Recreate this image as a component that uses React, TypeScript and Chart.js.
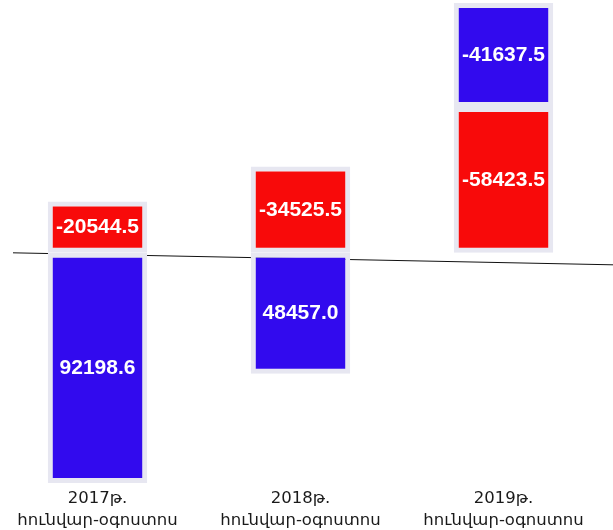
import React, { useEffect, useRef } from "react";
import { Chart, registerables } from "chart.js";

Chart.register(...registerables);

const categories: string[][] = [
  ["2017թ.", "հունվար-օգոստոս"],
  ["2018թ.", "հունվար-օգոստոս"],
  ["2019թ.", "հունվար-օգոստոս"],
];
const redValues: number[] = [-20544.5, -34525.5, -58423.5];
const blueValues: number[] = [92198.6, 48457.0, -41637.5];

const RED = "#F80A0A";
const BLUE = "#320AEE";
const EDGE = "#E7E7F1";

export default function App() {
  const ref = useRef<HTMLCanvasElement | null>(null);

  useEffect(() => {
    if (!ref.current) return;
    const negSums = categories.map((_, i) =>
      [redValues[i], blueValues[i]].filter((v) => v < 0).reduce((a, b) => a + b, 0)
    );
    const posSums = categories.map((_, i) =>
      [redValues[i], blueValues[i]].filter((v) => v > 0).reduce((a, b) => a + b, 0)
    );
    const yMin = Math.min(...negSums);
    const yMax = Math.max(...posSums);

    const zeroLine = {
      id: "zeroLine",
      beforeDatasetsDraw(chart: any) {
        const y = chart.scales.y.getPixelForValue(0);
        const ctx = chart.ctx;
        ctx.save();
        ctx.strokeStyle = "#111";
        ctx.lineWidth = 1;
        ctx.beginPath();
        ctx.moveTo(17, y);
        ctx.lineTo(chart.width, y + 12);
        ctx.stroke();
        ctx.restore();
      },
    };

    const valueLabels = {
      id: "valueLabels",
      afterDatasetsDraw(chart: any) {
        const ctx = chart.ctx;
        ctx.save();
        ctx.fillStyle = "#FFFFFF";
        ctx.font = "bold 21px 'Liberation Sans', Arial, sans-serif";
        ctx.textAlign = "center";
        ctx.textBaseline = "middle";
        chart.data.datasets.forEach((ds: any, di: number) => {
          const meta = chart.getDatasetMeta(di);
          meta.data.forEach((bar: any, i: number) => {
            const v = ds.data[i] as number;
            const cy = (bar.y + bar.base) / 2;
            ctx.fillText(v.toFixed(1), bar.x, cy);
          });
        });
        ctx.restore();
      },
    };

    const chart = new Chart(ref.current, {
      type: "bar",
      data: {
        labels: categories,
        datasets: [
          {
            label: "red",
            data: redValues,
            backgroundColor: RED,
            borderColor: EDGE,
            borderWidth: 5,
            borderSkipped: false,
          },
          {
            label: "blue",
            data: blueValues,
            backgroundColor: BLUE,
            borderColor: EDGE,
            borderWidth: 5,
            borderSkipped: false,
          },
        ],
      },
      options: {
        responsive: false,
        animation: false,
        layout: { padding: { left: 0, right: 8, top: 3, bottom: 0 } },
        plugins: {
          legend: { display: false },
          tooltip: { enabled: false },
        },
        datasets: {
          bar: { categoryPercentage: 1, barPercentage: 0.49 },
        },
        scales: {
          x: {
            stacked: true,
            grid: { display: false, drawTicks: false },
            border: { display: false },
            ticks: {
              color: "#1a1a1a",
              padding: 5,
              maxRotation: 0,
              autoSkip: false,
              font: {
                family: "'DejaVu Sans', 'Liberation Sans', sans-serif",
                size: 16.5,
                lineHeight: "22px",
              },
            },
          },
          y: {
            stacked: true,
            reverse: true,
            display: false,
            min: yMin,
            max: yMax,
          },
        },
      },
      plugins: [zeroLine, valueLabels],
    });
    return () => chart.destroy();
  }, []);

  return (
    <div
      style={{
        position: "absolute",
        left: 0,
        top: 0,
        width: 613,
        height: 530,
        overflow: "hidden",
        background: "#fff",
      }}
    >
      <canvas
        ref={ref}
        width={617}
        height={537}
        style={{ position: "absolute", left: -4, top: 0, display: "block" }}
      />
    </div>
  );
}
